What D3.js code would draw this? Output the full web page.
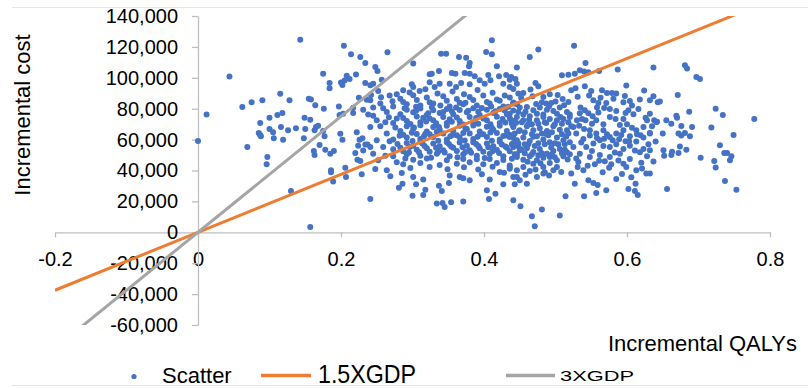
<!DOCTYPE html>
<html>
<head>
<meta charset="utf-8">
<script src="https://cdn.jsdelivr.net/npm/d3@7"></script>
<style>
  body { margin: 0; background: #fff; }
  text { font-family: "Liberation Sans", Arial, sans-serif; fill: #000; }
</style>
</head>
<body>
<svg id="chart"></svg>
<script>
// axis ticks
const xTicks = [-0.2, 0, 0.2, 0.4, 0.6, 0.8];
const xTickLabels = ['-0.2', '0', '0.2', '0.4', '0.6', '0.8'];
const yTicks = [-60000, -40000, -20000, 0, 20000, 40000, 60000, 80000, 100000, 120000, 140000];

// threshold lines (two end points each)
const lineQaly = [-0.2, 0.8];
const line15Cost = [-37500, 150000];
const line3Cost = [-75000, 300000];

const legendLabels = ['Scatter', '1.5XGDP', '3XGDP'];

// [incremental QALYs, incremental cost]
const scatter = [
  [0.000,59100],[0.012,76300],[0.044,100900],[0.062,81100],[0.075,84100],[0.090,85400],[0.115,89700],[0.128,85400],
  [0.143,124600],[0.069,55200],[0.087,70700],[0.100,74200],[0.111,75900],[0.118,77200],[0.085,64300],[0.087,63000],
  [0.088,62100],[0.100,66800],[0.105,64700],[0.106,60800],[0.116,68100],[0.126,66000],[0.137,67300],[0.149,74200],
  [0.157,72900],[0.150,66800],[0.148,60800],[0.119,59900],[0.097,48700],[0.096,44000],[0.130,26700],[0.157,3400],
  [0.155,86500],[0.158,86000],[0.164,82200],[0.176,80000],[0.175,102600],[0.184,96600],[0.184,93200],[0.200,97000],
  [0.202,95300],[0.205,98300],[0.208,101400],[0.212,99200],[0.204,120800],[0.214,115200],[0.227,113400],[0.234,109500],
  [0.221,102200],[0.234,96600],[0.225,87100],[0.236,85800],[0.242,88800],[0.197,81500],[0.198,75900],[0.203,76800],
  [0.217,77200],[0.217,80600],[0.231,79300],[0.238,76300],[0.245,75500],[0.165,68100],[0.168,69000],[0.163,66000],
  [0.175,65500],[0.177,62100],[0.162,52600],[0.163,50000],[0.170,56500],[0.178,53500],[0.185,50900],[0.190,52600],
  [0.199,63800],[0.202,59900],[0.220,51300],[0.224,56100],[0.226,59900],[0.230,60800],[0.234,56900],[0.231,53000],
  [0.237,56900],[0.222,64700],[0.223,47000],[0.227,46100],[0.186,40100],[0.186,38800],[0.189,32800],[0.206,41800],
  [0.207,35800],[0.229,37500],
  [0.411,124300],[0.403,116700],[0.411,115200],[0.265,116500],[0.340,115600],[0.347,115600],[0.365,113500],[0.375,113000],
  [0.380,109600],[0.379,107400],[0.418,107400],[0.301,109200],[0.248,107000],[0.251,104400],[0.337,104400],[0.324,102300],
  [0.327,102700],[0.355,103100],[0.360,102700],[0.373,103100],[0.380,102700],[0.387,101000],[0.406,101800],[0.421,101000],
  [0.431,101800],[0.438,100500],[0.257,98800],[0.241,95100],[0.245,96200],[0.287,91900],[0.278,89300],[0.299,95800],
  [0.301,94100],[0.310,91500],[0.324,97100],[0.331,94100],[0.338,96200],[0.352,96200],[0.361,94100],[0.368,96600],
  [0.380,95800],[0.394,98400],[0.401,96200],[0.409,98400],[0.427,96200],[0.436,94100],[0.448,89800],[0.441,92800],
  [0.241,85400],[0.245,80700],[0.255,83300],[0.259,80300],[0.268,88500],[0.264,77900],[0.250,72500],[0.241,68200],
  [0.255,68600],[0.264,63900],[0.250,59600],[0.241,55200],[0.259,55200],[0.245,50900],[0.252,46600],[0.248,41000],
  [0.241,21600],
  [0.283,86500],[0.301,88700],[0.320,87200],[0.343,88000],[0.362,86300],[0.380,87600],[0.399,88500],[0.418,85900],[0.436,87200],
  [0.273,81500],[0.292,82800],[0.311,82000],[0.329,83300],[0.352,81500],[0.371,82800],[0.390,82000],[0.408,83300],[0.427,81500],[0.446,82800],
  [0.283,76400],[0.301,77700],[0.320,75900],[0.338,77200],[0.357,76400],[0.376,77700],[0.394,75900],[0.413,77200],[0.432,76400],
  [0.273,70800],[0.292,72100],[0.311,71200],[0.329,72500],[0.348,70800],[0.366,72100],[0.385,71200],[0.404,72500],[0.422,70800],[0.441,72100],
  [0.283,65600],[0.301,66900],[0.320,65200],[0.338,66400],[0.357,65600],[0.376,66900],[0.394,65200],[0.413,66400],[0.432,65600],
  [0.273,60000],[0.292,61300],[0.311,60400],[0.329,61700],[0.348,60000],[0.366,61300],[0.385,60400],[0.404,61700],[0.422,60000],[0.441,61300],
  [0.283,54800],[0.301,56100],[0.320,54400],[0.338,55700],[0.357,54800],[0.376,56100],[0.394,54400],[0.413,55700],[0.432,54800],[0.448,55700],
  [0.273,49200],[0.292,50500],[0.311,49600],[0.334,50900],[0.352,49200],[0.371,50500],[0.390,49600],[0.408,50900],[0.427,49200],[0.446,50500],
  [0.287,44000],[0.311,44900],[0.338,43600],[0.362,44400],[0.380,45300],[0.399,44000],[0.418,44900],[0.436,43200],
  [0.264,40100],[0.285,38400],[0.301,35800],[0.315,34100],[0.352,36700],[0.366,35800],[0.380,33700],[0.397,37500],
  [0.408,34100],[0.422,39100],[0.436,41200],[0.446,35800],[0.286,31500],[0.305,31100],[0.318,27600],[0.337,30200],
  [0.341,26800],[0.351,31900],[0.371,35000],[0.404,27200],[0.407,21600],[0.416,25000],[0.427,31100],[0.300,23700],
  [0.315,24200],[0.334,18600],[0.342,19000],[0.345,16400],[0.354,19400],[0.371,19900],[0.441,20700],
  [0.287,84400],[0.306,85700],[0.324,84100],[0.348,85200],[0.366,83900],[0.385,85600],[0.404,84400],[0.422,85200],[0.441,84000],
  [0.292,79400],[0.311,80100],[0.329,79000],[0.348,79800],[0.366,79200],[0.385,80300],[0.404,79400],[0.422,79800],[0.441,78900],
  [0.287,74000],[0.306,74900],[0.324,73600],[0.343,74600],[0.362,74300],[0.380,74600],[0.399,73700],[0.418,74800],[0.436,74000],
  [0.292,68600],[0.311,69300],[0.329,68200],[0.348,69000],[0.366,68900],[0.385,69200],[0.404,68300],[0.422,69000],[0.441,68600],
  [0.287,63200],[0.306,63600],[0.324,63500],[0.343,63900],[0.362,62800],[0.380,63900],[0.399,63400],[0.418,64200],[0.436,63200],
  [0.292,57800],[0.311,58600],[0.329,57500],[0.348,58300],[0.366,58100],[0.385,58300],[0.404,57500],[0.422,58600],[0.441,57800],
  [0.287,52400],[0.306,53400],[0.324,52100],[0.343,53100],[0.362,52700],[0.380,53100],[0.399,52200],[0.418,53300],[0.436,52400],
  [0.301,47000],[0.320,47800],[0.348,46700],[0.371,47500],[0.390,47300],[0.408,47500],[0.427,46800],
  [0.526,120800],[0.476,118300],[0.464,113500],[0.446,106600],[0.542,109600],[0.587,105300],[0.561,104400],[0.509,101600],
  [0.518,102000],[0.527,102700],[0.534,104900],[0.540,104000],[0.546,103600],[0.436,98800],[0.444,99200],[0.446,96200],
  [0.472,96600],[0.476,94500],[0.465,92400],[0.455,90200],[0.599,95000],[0.522,91900],[0.528,93200],[0.541,94500],
  [0.550,91500],[0.565,91900],[0.572,90200],[0.579,90200],[0.585,89800],[0.510,86300],[0.500,84600],[0.483,87600],
  [0.492,89300],[0.487,83300],[0.637,88000],[0.632,85400],[0.643,84100],[0.595,84100],[0.604,85000],[0.607,82000],
  [0.602,79000],[0.553,85400],[0.560,83700],[0.558,80700],[0.571,83700],[0.576,79800],[0.585,78500],[0.535,80700],
  [0.541,79000],[0.537,73300],[0.530,72500],[0.542,72500],[0.520,74600],[0.525,68200],[0.516,66000],
  [0.441,83300],[0.450,80700],[0.460,81100],[0.469,79000],[0.478,80700],[0.488,79400],[0.497,78500],[0.506,80700],[0.516,77900],
  [0.446,74600],[0.455,72500],[0.464,75100],[0.474,72500],[0.483,74600],[0.492,73400],[0.502,72500],[0.511,73400],
  [0.441,68200],[0.450,66000],[0.460,68600],[0.469,66000],[0.478,67300],[0.488,65600],[0.497,68600],[0.506,66400],
  [0.436,61700],[0.446,59600],[0.455,61300],[0.464,59100],[0.474,62100],[0.483,60000],[0.492,58300],[0.502,61300],[0.511,59600],[0.520,58300],
  [0.441,55200],[0.450,53100],[0.460,54400],[0.469,52000],[0.478,53900],[0.488,50900],[0.497,52600],[0.506,53900],[0.516,51800],[0.525,55200],
  [0.446,48800],[0.455,47000],[0.464,49200],[0.474,46600],[0.483,48300],[0.492,48800],[0.502,46600],[0.511,49200],
  [0.448,77900],[0.467,69900],[0.490,62800],[0.457,57000],[0.504,57000],[0.476,49800],[0.522,68600],[0.494,83700],[0.518,84400],[0.438,72500],
  [0.439,70300],[0.453,71200],[0.462,69900],[0.476,70300],[0.485,71200],[0.499,69900],[0.509,70300],[0.518,71200],
  [0.443,63900],[0.457,64700],[0.467,63400],[0.481,63900],[0.495,64700],[0.509,63400],[0.518,63900],
  [0.439,57000],[0.448,57600],[0.462,57000],[0.476,57600],[0.485,57000],[0.499,57600],[0.513,57000],
  [0.443,50500],[0.457,51100],[0.467,50500],[0.481,51100],[0.495,50500],[0.509,51100],[0.520,50500],
  [0.436,76800],[0.455,76200],[0.474,76800],[0.483,76200],[0.502,76800],[0.520,76200],
  [0.436,42300],[0.446,40100],[0.455,42300],[0.464,39700],[0.469,44400],[0.483,42300],[0.492,44900],[0.502,42300],
  [0.497,40100],[0.485,38800],[0.441,35800],[0.450,33700],[0.460,31500],[0.474,35800],[0.483,38000],[0.443,31100],
  [0.522,38000],[0.527,31500],[0.531,42300],[0.539,40100],[0.546,33700],[0.553,31900],[0.559,30600],[0.557,25500],
  [0.571,27200],[0.566,38800],[0.578,44000],[0.585,34500],[0.595,44400],[0.599,42300],[0.602,28100],[0.611,26800],
  [0.615,24200],[0.612,31500],[0.613,40100],[0.618,51800],[0.623,61300],[0.628,72500],[0.627,38000],[0.638,72500],
  [0.642,71600],[0.514,23300],[0.540,23300],[0.451,16800],[0.467,10400],[0.471,3900],[0.481,14700],[0.506,10800],
  [0.548,66000],[0.557,63900],[0.567,66000],[0.576,61700],[0.585,63900],[0.595,66000],[0.604,62100],[0.613,66000],
  [0.623,68200],[0.553,57400],[0.562,59600],[0.543,55200],[0.576,55200],[0.585,57000],[0.595,53900],[0.604,56100],
  [0.613,58700],[0.534,50900],[0.548,48800],[0.562,50100],[0.576,48800],[0.590,50900],[0.604,47500],[0.623,53900],
  [0.557,72500],[0.576,74600],[0.595,73400],[0.609,76400],[0.529,63900],[0.539,60400],
  [0.532,45500],[0.555,44000],[0.569,46000],[0.588,46500],[0.620,45000],[0.567,70000],[0.590,69500],[0.546,77000],
  [0.560,77500],[0.600,70000],[0.630,57000],[0.632,64000],
  [0.637,106600],[0.681,108100],[0.684,106100],[0.697,100500],[0.702,99200],[0.671,88900],[0.646,84600],[0.632,76800],
  [0.687,78100],[0.724,80000],[0.734,75900],[0.778,73300],[0.655,72500],[0.662,70300],[0.670,74200],[0.669,75500],
  [0.641,71400],[0.635,68600],[0.676,68800],[0.691,68200],[0.718,67800],[0.650,63900],[0.632,64300],[0.672,63900],
  [0.676,62600],[0.681,64300],[0.688,62100],[0.749,63000],[0.632,53100],[0.651,53100],[0.652,49600],[0.662,50000],
  [0.663,52200],[0.672,51300],[0.674,55600],[0.683,53500],[0.703,48300],[0.730,56300],[0.736,51300],[0.740,51300],
  [0.746,49200],[0.744,46600],[0.722,46100],[0.724,41900],[0.737,33200],[0.753,27600],[0.656,28000],[0.632,38000],
  [0.296,90500],[0.318,92600],[0.335,89900],[0.356,91200],[0.372,89400],[0.391,92100],[0.412,90300],[0.429,88600],
  [0.452,86900],[0.468,88100],[0.481,84200],[0.503,88900],
  [0.289,80300],[0.305,78600],[0.327,81000],[0.343,77900],[0.361,80800],[0.378,78700],[0.397,80500],[0.416,78300],
  [0.434,81200],[0.458,78100],[0.473,83100],[0.491,81600],[0.512,82300],
  [0.278,73600],[0.297,70100],[0.315,74200],[0.333,70600],[0.352,73100],[0.371,69800],[0.389,73900],[0.409,70000],
  [0.426,73300],[0.445,70900],[0.463,72900],[0.487,70700],[0.507,74600],
  [0.282,62500],[0.299,64500],[0.316,62100],[0.334,64900],[0.353,62200],[0.371,64300],[0.391,61900],[0.409,64600],
  [0.427,62400],[0.449,65600],[0.469,61800],[0.487,63600],[0.515,62000],
  [0.279,57200],[0.296,55200],[0.314,57500],[0.333,54800],[0.351,57200],[0.370,55100],[0.389,57100],[0.406,55000],
  [0.425,56900],[0.452,53800],[0.471,55800],[0.494,54900],[0.513,53500],
  [0.290,47800],[0.309,51800],[0.326,48300],[0.345,51700],[0.363,48600],[0.382,51500],[0.401,48100],[0.421,51300],
  [0.439,47600],[0.461,45600],[0.479,44700],[0.499,48500],[0.517,47200],
  [0.297,41600],[0.324,42300],[0.349,40800],[0.372,42100],[0.392,40600],[0.412,42500],[0.428,38600],[0.458,37200],
  [0.472,40600],[0.491,36700],[0.508,39000],
  [0.531,87800],[0.547,88600],[0.563,87100],[0.581,86400],[0.597,88200],[0.618,86000],[0.624,91800],
  [0.534,77000],[0.552,75100],[0.568,80400],[0.584,73400],[0.598,77200],[0.616,79800],[0.626,74200],
  [0.533,69000],[0.551,70200],[0.572,63500],[0.589,60200],[0.607,67700],[0.619,62800],[0.640,58700],
  [0.536,58200],[0.551,52600],[0.567,55800],[0.583,51700],[0.598,58900],[0.611,52900],[0.628,49200],
  [0.529,47700],[0.545,43100],[0.561,46300],[0.575,41800],[0.593,37800],[0.606,35600],[0.621,41300],[0.637,45800],
  [0.252,91500],[0.256,87400],[0.272,84900],[0.267,74400],[0.262,71200],[0.276,67800],[0.268,59000],[0.273,53800],
  [0.262,49600],[0.278,45400],[0.269,36300],[0.281,28900],
  [0.305,81200],[0.322,77000],[0.339,82100],[0.355,78400],[0.374,83900],[0.392,78100],[0.410,81500],[0.429,78900],
  [0.302,67900],[0.319,71700],[0.337,68100],[0.355,71600],[0.374,67200],[0.392,70300],[0.411,67700],[0.430,71000],
  [0.300,59100],[0.318,63800],[0.336,59300],[0.356,63000],[0.373,59400],[0.394,63300],[0.411,59200],[0.431,62600],
  [0.295,51600],[0.317,55900],[0.336,52200],[0.354,55600],[0.374,51900],[0.392,55900],[0.412,52400],[0.430,55500],
  [0.548,62600],[0.558,61100],[0.568,60500],[0.580,59500],[0.592,62900],[0.540,66900],[0.603,59000],[0.614,63500]
];

const config = {
  width: 808,
  height: 388,
  plotLeft: 55, // x of -0.2
  plotRight: 770, // x of 0.8
  plotTop: 16, // y of 140,000
  plotBottom: 325, // y of -60,000
  axisColor: '#bfbfbf',
  dotColor: '#4472c4',
  dotRadius: 3,
  orange: '#ed7d31',
  gray: '#a5a5a5',
  tickFont: 20,
};

const c = config;
const svg = d3.select('#chart')
  .attr('width', c.width)
  .attr('height', c.height)
  .attr('viewBox', [0, 0, c.width, c.height]);

const locale = d3.formatLocale({ decimal: '.', thousands: ',', grouping: [3], currency: ['', ''], minus: '-' });
const yFormat = locale.format(',');

const x = d3.scaleLinear([-0.2, 0.8], [c.plotLeft, c.plotRight]);
const y = d3.scaleLinear([-60000, 140000], [c.plotBottom, c.plotTop]);

/**
 * chart frame (faint top / bottom edges)
 */
svg.append('line').attr('x1', 12).attr('x2', c.width).attr('y1', 7.5).attr('y2', 7.5)
  .attr('stroke', '#e6e6e6').attr('stroke-width', 1);
svg.append('line').attr('x1', 12).attr('x2', c.width).attr('y1', 385.5).attr('y2', 385.5)
  .attr('stroke', '#e6e6e6').attr('stroke-width', 1);

/**
 * axes, crossing at (0, 0)
 */
const styleAxis = (g) => {
  g.select('.domain').attr('stroke', c.axisColor).attr('stroke-width', 1.3);
  g.selectAll('.tick line').attr('stroke', c.axisColor).attr('stroke-width', 1.3);
  g.selectAll('.tick text')
    .attr('fill', '#000')
    .style('font-family', '"Liberation Sans", Arial, sans-serif')
    .style('font-size', c.tickFont + 'px');
};

svg.append('g')
  .attr('transform', `translate(0,${y(0)})`)
  .call(d3.axisBottom(x).tickValues(xTicks).tickFormat((d, i) => xTickLabels[i])
    .tickSize(5).tickSizeOuter(0).tickPadding(15))
  .call(styleAxis);

svg.append('g')
  .attr('transform', `translate(${x(0)},0)`)
  .call(d3.axisLeft(y).tickValues(yTicks).tickFormat(yFormat)
    .tickSize(6).tickSizeOuter(0).tickPadding(14))
  .call(styleAxis);

/**
 * plot clip
 */
svg.append('defs').append('clipPath').attr('id', 'plot_clip')
  .append('rect')
  .attr('x', c.plotLeft)
  .attr('y', c.plotTop)
  .attr('width', c.plotRight - c.plotLeft)
  .attr('height', c.plotBottom - c.plotTop);

const plot = svg.append('g').attr('clip-path', 'url(#plot_clip)');

/**
 * scatter
 */
plot.append('g')
  .selectAll('circle')
  .data(scatter)
  .join('circle')
  .attr('cx', (d) => x(d[0]))
  .attr('cy', (d) => y(d[1]))
  .attr('r', c.dotRadius)
  .attr('fill', c.dotColor);

/**
 * WTP threshold lines
 */
const line = d3.line().x((d) => x(d[0])).y((d) => y(d[1]));
plot.append('path')
  .attr('d', line(d3.zip(lineQaly, line15Cost)))
  .attr('fill', 'none')
  .attr('stroke', c.orange)
  .attr('stroke-width', 3);
plot.append('path')
  .attr('d', line(d3.zip(lineQaly, line3Cost)))
  .attr('fill', 'none')
  .attr('stroke', c.gray)
  .attr('stroke-width', 3);

/**
 * axis titles
 */
svg.append('text')
  .attr('transform', 'translate(30,115) rotate(-90)')
  .attr('text-anchor', 'middle')
  .style('font-size', '22px')
  .text('Incremental cost');

svg.append('text')
  .attr('x', 797)
  .attr('y', 351)
  .attr('text-anchor', 'end')
  .style('font-size', '22px')
  .text('Incremental QALYs');

/**
 * legend
 */
const legend = svg.append('g');
legend.append('circle').attr('cx', 134).attr('cy', 376.5).attr('r', 2.6).attr('fill', c.dotColor);
legend.append('text').attr('x', 162).attr('y', 383).style('font-size', '22px').text(legendLabels[0]);

legend.append('line').attr('x1', 261).attr('x2', 311).attr('y1', 375.5).attr('y2', 375.5)
  .attr('stroke', c.orange).attr('stroke-width', 3.5);
legend.append('text').attr('x', 318).attr('y', 383)
  .attr('textLength', 98).attr('lengthAdjust', 'spacingAndGlyphs')
  .style('font-size', '26px').text(legendLabels[1]);

legend.append('line').attr('x1', 506).attr('x2', 555).attr('y1', 375.5).attr('y2', 375.5)
  .attr('stroke', c.gray).attr('stroke-width', 3.5);
legend.append('text').attr('x', 560).attr('y', 381)
  .attr('textLength', 74).attr('lengthAdjust', 'spacingAndGlyphs')
  .style('font-size', '15px').text(legendLabels[2]);
</script>
</body>
</html>
